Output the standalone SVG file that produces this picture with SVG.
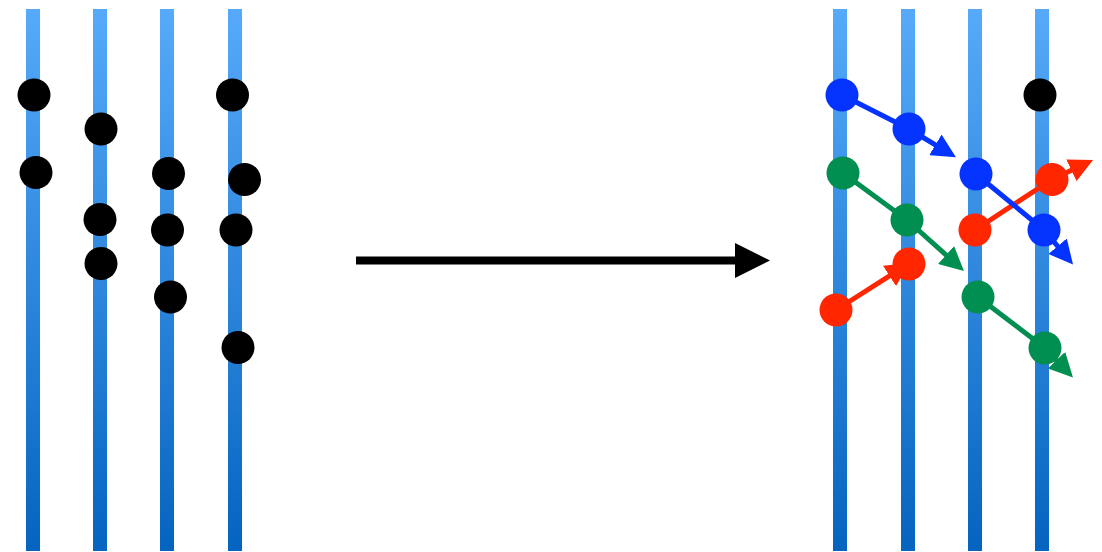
<svg xmlns="http://www.w3.org/2000/svg" width="1102" height="552" viewBox="0 0 1102 552">
  <defs>
    <linearGradient id="barFill" x1="0" y1="0" x2="0" y2="1">
      <stop offset="0" stop-color="#56aaf9"/>
      <stop offset="1" stop-color="#0564c0"/>
    </linearGradient>
    <marker id="headBlue" viewBox="0 0 24 24" refX="14" refY="12" markerWidth="24" markerHeight="24" markerUnits="userSpaceOnUse" orient="auto">
      <path d="M0,0 L24,12 L0,24 z" fill="#0433ff"/>
    </marker>
    <marker id="headGreen" viewBox="0 0 24 24" refX="14" refY="12" markerWidth="24" markerHeight="24" markerUnits="userSpaceOnUse" orient="auto">
      <path d="M0,0 L24,12 L0,24 z" fill="#008f51"/>
    </marker>
    <marker id="headRed" viewBox="0 0 24 24" refX="14" refY="12" markerWidth="24" markerHeight="24" markerUnits="userSpaceOnUse" orient="auto">
      <path d="M0,0 L24,12 L0,24 z" fill="#ff2600"/>
    </marker>
  </defs>
  <style>
    .bar { fill: url(#barFill); }
    .dot { stroke: none; }
    .k { fill: #000000; }
    .b { fill: #0433ff; }
    .g { fill: #008f51; }
    .r { fill: #ff2600; }
    .link { fill: none; stroke-width: 5; stroke-linejoin: round; }
  </style>

  <!-- lanes before -->
  <g id="lanes-before">
    <rect class="bar" x="26" y="9" width="14" height="542"/>
    <rect class="bar" x="93" y="9" width="14" height="542"/>
    <rect class="bar" x="160" y="9" width="14" height="542"/>
    <rect class="bar" x="228" y="9" width="14" height="542"/>
  </g>

  <!-- lanes after -->
  <g id="lanes-after">
    <rect class="bar" x="833" y="9" width="14" height="542"/>
    <rect class="bar" x="901" y="9" width="14" height="542"/>
    <rect class="bar" x="968" y="9" width="14" height="542"/>
    <rect class="bar" x="1035" y="9" width="14" height="542"/>
  </g>

  <!-- connectors -->
  <g id="connectors">
    <g id="transform-arrow">
      <line x1="356" y1="260.5" x2="737" y2="260.5" stroke="#000" stroke-width="8"/>
      <path d="M735,243 L770,260.5 L735,278 z" fill="#000"/>
    </g>
    <polyline class="link" stroke="#ff2600" points="836,310 901.3,268.4" marker-end="url(#headRed)"/>
    <polyline class="link" stroke="#ff2600" points="975,230 1052,179.5 1084,164.3" marker-end="url(#headRed)"/>
    <polyline class="link" stroke="#008f51" points="843,173 907,220 956.5,264.3" marker-end="url(#headGreen)"/>
    <polyline class="link" stroke="#008f51" points="978,297 1045,348 1066.1,370.3" marker-end="url(#headGreen)"/>
    <polyline class="link" stroke="#0433ff" points="842,95 909,129 947.4,152.1" marker-end="url(#headBlue)"/>
    <polyline class="link" stroke="#0433ff" points="976,174 1044,230 1066.6,256.9" marker-end="url(#headBlue)"/>
  </g>

  <!-- points before -->
  <g id="points-before">
    <circle id="p1" class="dot k" cx="34" cy="95" r="16.5"/>
    <circle id="p2" class="dot k" cx="36" cy="172.5" r="16.5"/>
    <circle id="p3" class="dot k" cx="101" cy="129" r="16.5"/>
    <circle id="p4" class="dot k" cx="100" cy="219.5" r="16.5"/>
    <circle id="p5" class="dot k" cx="101" cy="263.5" r="16.5"/>
    <circle id="p6" class="dot k" cx="168.5" cy="173.5" r="16.5"/>
    <circle id="p7" class="dot k" cx="167.5" cy="230" r="16.5"/>
    <circle id="p8" class="dot k" cx="170.5" cy="297" r="16.5"/>
    <circle id="p9" class="dot k" cx="232.5" cy="95" r="16.5"/>
    <circle id="p10" class="dot k" cx="244.5" cy="179.5" r="16.5"/>
    <circle id="p11" class="dot k" cx="236" cy="230" r="16.5"/>
    <circle id="p12" class="dot k" cx="238" cy="347.5" r="16.5"/>
  </g>

  <!-- points after -->
  <g id="points-after">
    <circle id="q-b1" class="dot b" cx="842" cy="95" r="16.5"/>
    <circle id="q-b2" class="dot b" cx="909" cy="129" r="16.5"/>
    <circle id="q-b3" class="dot b" cx="976" cy="174" r="16.5"/>
    <circle id="q-b4" class="dot b" cx="1044" cy="230" r="16.5"/>
    <circle id="q-g1" class="dot g" cx="843" cy="173" r="16.5"/>
    <circle id="q-g2" class="dot g" cx="907" cy="220" r="16.5"/>
    <circle id="q-g3" class="dot g" cx="978" cy="297" r="16.5"/>
    <circle id="q-g4" class="dot g" cx="1045" cy="348" r="16.5"/>
    <circle id="q-r1" class="dot r" cx="836" cy="310" r="16.5"/>
    <circle id="q-r2" class="dot r" cx="909" cy="264" r="16.5"/>
    <circle id="q-r3" class="dot r" cx="975" cy="230" r="16.5"/>
    <circle id="q-r4" class="dot r" cx="1052" cy="179.5" r="16.5"/>
    <circle id="q-k1" class="dot k" cx="1040" cy="95" r="16.5"/>
  </g>
</svg>
